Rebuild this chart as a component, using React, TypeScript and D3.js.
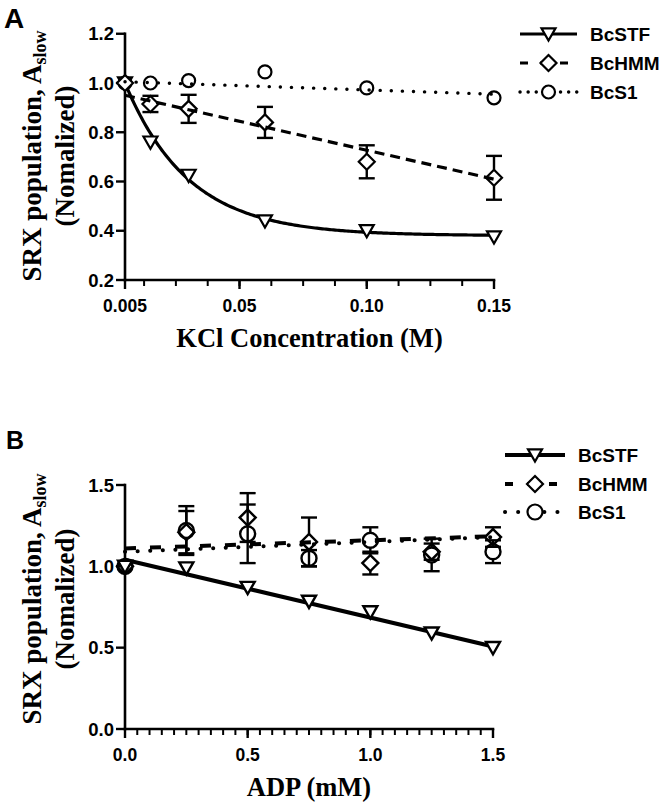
import React from "react";
import * as d3 from "d3";

// ---------- Panel A data (KCl) ----------
const kclX = [0.005, 0.015, 0.03, 0.06, 0.1, 0.15];
const kclSTF = [1.0, 0.76, 0.625, 0.44, 0.4, 0.375];
const kclHMM = [1.0, 0.915, 0.895, 0.84, 0.68, 0.615];
const kclHMMErr = [0, 0.033, 0.057, 0.063, 0.067, 0.089];
const kclS1 = [1.0, 1.0, 1.01, 1.045, 0.98, 0.94];
// fitted curves
const kclSTFFit = { plateau: 0.38, span: 0.62, k: 40, x0: 0.005 };
const kclHMMFit = { a: 0.962, b: -2.35 };
const kclS1Fit = { a: 1.007, b: -0.35 };
const kclXTicks = [0.005, 0.05, 0.1, 0.15];
const kclXTickLabels = ["0.005", "0.05", "0.10", "0.15"];
const kclYTicks = [0.2, 0.4, 0.6, 0.8, 1.0, 1.2];
const kclYTickLabels = ["0.2", "0.4", "0.6", "0.8", "1.0", "1.2"];

// ---------- Panel B data (ADP) ----------
const adpX = [0, 0.25, 0.5, 0.75, 1.0, 1.25, 1.5];
const adpSTF = [1.0, 0.99, 0.87, 0.785, 0.72, 0.59, 0.5];
const adpHMM = [1.0, 1.21, 1.3, 1.15, 1.02, 1.09, 1.18];
const adpHMMErr = [0, 0.13, 0.15, 0.15, 0.07, 0.05, 0.06];
const adpS1 = [1.0, 1.22, 1.2, 1.05, 1.16, 1.07, 1.09];
const adpS1Err = [0, 0.15, 0.18, 0.05, 0.08, 0.1, 0.07];
const adpSTFFit = { a: 1.04, b: -0.355 };
const adpHMMFit = { a: 1.11, b: 0.05 };
const adpS1Fit = { a: 1.09, b: 0.06 };
const adpXTicks = [0, 0.5, 1.0, 1.5];
const adpXTickLabels = ["0.0", "0.5", "1.0", "1.5"];
const adpYTicks = [0, 0.5, 1.0, 1.5];
const adpYTickLabels = ["0.0", "0.5", "1.0", "1.5"];

const seriesNames = ["BcSTF", "BcHMM", "BcS1"];

const SANS = "'Liberation Sans', Arial, Helvetica, sans-serif";
const SERIF = "'Liberation Serif', 'Times New Roman', serif";

type Shape = "tri" | "dia" | "cir";

function Marker({ shape, cx, cy, s, fill, sw }: { shape: Shape; cx: number; cy: number; s: number; fill: string; sw: number }) {
  if (shape === "tri") {
    const w = s, h = s;
    const d = `M${cx - w},${cy - h * 0.8}L${cx + w},${cy - h * 0.8}L${cx},${cy + h * 0.95}Z`;
    return <path d={d} fill={fill} stroke="#000" strokeWidth={sw} strokeLinejoin="miter" />;
  }
  if (shape === "dia") {
    const d = `M${cx},${cy - s}L${cx + s},${cy}L${cx},${cy + s}L${cx - s},${cy}Z`;
    return <path d={d} fill={fill} stroke="#000" strokeWidth={sw} />;
  }
  return <circle cx={cx} cy={cy} r={s} fill={fill} stroke="#000" strokeWidth={sw} />;
}

function ErrBar({ x, y0, yTop, yBot, half, cap, sw }: any) {
  return (
    <g stroke="#000" strokeWidth={sw}>
      <line x1={x} x2={x} y1={yTop} y2={y0 - half} />
      <line x1={x} x2={x} y1={y0 + half} y2={yBot} />
      <line x1={x - cap} x2={x + cap} y1={yTop} y2={yTop} />
      <line x1={x - cap} x2={x + cap} y1={yBot} y2={yBot} />
    </g>
  );
}

function Axes({ x, y, xTicks, xLabels, xMinor, yTicks, yLabels, xTitle, titleCenterY, label, labelY, labelSize }: any) {
  const [x0, x1] = x.range();
  const [yb, yt] = y.range();
  return (
    <g>
      <line x1={x0} x2={x1} y1={yb} y2={yb} stroke="#000" strokeWidth={2.6} strokeLinecap="square" />
      <line x1={x0} x2={x0} y1={yb} y2={yt} stroke="#000" strokeWidth={2.6} strokeLinecap="square" />
      {xMinor.map((v: number, i: number) => (
        <line key={"m" + i} x1={x(v)} x2={x(v)} y1={yb} y2={yb + 6} stroke="#000" strokeWidth={2} />
      ))}
      {xTicks.map((v: number, i: number) => (
        <g key={"x" + i}>
          <line x1={x(v)} x2={x(v)} y1={yb} y2={yb + 9} stroke="#000" strokeWidth={2.4} />
          <text x={x(v)} y={yb + 32} textAnchor="middle" fontFamily={SANS} fontWeight="bold" fontSize={17.5}>
            {xLabels[i]}
          </text>
        </g>
      ))}
      {yTicks.map((v: number, i: number) => (
        <g key={"y" + i}>
          <line x1={x0 - 9} x2={x0} y1={y(v)} y2={y(v)} stroke="#000" strokeWidth={2.4} />
          <text x={x0 - 11} y={y(v) + 6.5} textAnchor="end" fontFamily={SANS} fontWeight="bold" fontSize={18.5}>
            {yLabels[i]}
          </text>
        </g>
      ))}
      <text x={(x0 + x1) / 2} y={yb + 67} textAnchor="middle" fontFamily={SERIF} fontWeight="bold" fontSize={26.5}>
        {xTitle}
      </text>
      <g transform={`translate(41,${titleCenterY}) rotate(-90)`}>
        <text x={0} y={0} textAnchor="middle" fontFamily={SERIF} fontWeight="bold" fontSize={27}>
          SRX population, A
          <tspan fontSize={18} dy={5}>slow</tspan>
        </text>
      </g>
      <g transform={`translate(74,${titleCenterY}) rotate(-90)`}>
        <text x={0} y={0} textAnchor="middle" fontFamily={SERIF} fontWeight="bold" fontSize={27}>
          (Nomalized)
        </text>
      </g>
      <text x={labelY[0]} y={labelY[1]} fontFamily={SANS} fontWeight="bold" fontSize={labelSize}>
        {label}
      </text>
    </g>
  );
}

function Legend({ x0, x1, xText, rows, styles, sizes }: any) {
  const cx = (x0 + x1) / 2;
  return (
    <g>
      {seriesNames.map((n, i) => (
        <g key={n}>
          <line x1={x0} x2={x1} y1={rows[i]} y2={rows[i]} stroke="#000" strokeWidth={styles[i].w}
            strokeDasharray={styles[i].dash} strokeLinecap={styles[i].cap} />
          <Marker shape={(["tri", "dia", "cir"] as Shape[])[i]} cx={cx} cy={rows[i]} s={sizes[i]} fill="#fff" sw={2.2} />
          <text x={xText} y={rows[i] + 7} fontFamily={SANS} fontWeight="bold" fontSize={19}>
            {n}
          </text>
        </g>
      ))}
    </g>
  );
}

export default function App() {
  // ---- Panel A ----
  const xA = d3.scaleLinear().domain([0.005, 0.15]).range([125, 494]);
  const yA = d3.scaleLinear().domain([0.2, 1.2]).range([280, 33.75]);
  const minorA = d3.range(1, 13).map((i) => i * 0.0125);
  const fitXs = d3.range(0, 201).map((i) => 0.005 + (i / 200) * 0.145);
  const lineA = d3.line<[number, number]>().x((d) => xA(d[0])).y((d) => yA(d[1]));
  const stfCurveA = lineA(fitXs.map((v) => [v, kclSTFFit.plateau + kclSTFFit.span * Math.exp(-kclSTFFit.k * (v - kclSTFFit.x0))]));
  const hmmLineA = lineA([0.005, 0.15].map((v) => [v, kclHMMFit.a + kclHMMFit.b * v]));
  const s1LineA = lineA([0.005, 0.15].map((v) => [v, kclS1Fit.a + kclS1Fit.b * v]));

  // ---- Panel B ----
  const xB = d3.scaleLinear().domain([0, 1.5]).range([125, 493]);
  const yB = d3.scaleLinear().domain([0, 1.5]).range([729, 485]);
  const minorB = d3.range(1, 30).map((i) => i * 0.05);
  const lineB = d3.line<[number, number]>().x((d) => xB(d[0])).y((d) => yB(d[1]));
  const stfLineB = lineB([0, 1.5].map((v) => [v, adpSTFFit.a + adpSTFFit.b * v]));
  const hmmLineB = lineB([0, 1.5].map((v) => [v, adpHMMFit.a + adpHMMFit.b * v]));
  const s1LineB = lineB([0, 1.5].map((v) => [v, adpS1Fit.a + adpS1Fit.b * v]));

  return (
    <svg width={664} height={802} style={{ position: "absolute", left: 0, top: 0, background: "#fff" }}>
      {/* ===== Panel A ===== */}
      <Axes x={xA} y={yA} xTicks={kclXTicks} xLabels={kclXTickLabels} xMinor={minorA} yTicks={kclYTicks}
        yLabels={kclYTickLabels} xTitle="KCl Concentration (M)" titleCenterY={156} label="A" labelY={[4, 28]} labelSize={28} />
      <path d={stfCurveA!} fill="none" stroke="#000" strokeWidth={3.2} />
      {kclX.map((v, i) => (
        <ErrBar key={"ea" + i} x={xA(v)} y0={yA(kclHMM[i])} yTop={yA(kclHMM[i] + kclHMMErr[i])} yBot={yA(kclHMM[i] - kclHMMErr[i])}
          half={kclHMMErr[i] > 0 ? 8 : 0} cap={kclHMMErr[i] > 0 ? 8 : 0} sw={2.4} />
      ))}
      {kclX.map((v, i) => (
        <Marker key={"sa" + i} shape="cir" cx={xA(v)} cy={yA(kclS1[i])} s={6.5} fill="none" sw={2.2} />
      ))}
      {kclX.map((v, i) => (
        <Marker key={"ta" + i} shape="tri" cx={xA(v)} cy={yA(kclSTF[i])} s={7} fill="#fff" sw={2.2} />
      ))}
      {kclX.map((v, i) => (
        <Marker key={"ha" + i} shape="dia" cx={xA(v)} cy={yA(kclHMM[i])} s={8} fill="#fff" sw={2.2} />
      ))}
      <path d={hmmLineA!} fill="none" stroke="#000" strokeWidth={3.2} strokeDasharray="10,6" />
      <path d={s1LineA!} fill="none" stroke="#000" strokeWidth={3.4} strokeDasharray="0.1,11" strokeLinecap="round" />
      <Legend x0={520} x1={577} xText={590} rows={[34, 63, 92]}
        styles={[{ w: 3.2, dash: null, cap: "butt" }, { w: 3.2, dash: "8,12", cap: "butt" }, { w: 3.4, dash: "0.1,8", cap: "round" }]}
        sizes={[7, 8, 6.5]} />

      {/* ===== Panel B ===== */}
      <Axes x={xB} y={yB} xTicks={adpXTicks} xLabels={adpXTickLabels} xMinor={minorB} yTicks={adpYTicks}
        yLabels={adpYTickLabels} xTitle="ADP (mM)" titleCenterY={599} label="B" labelY={[6, 449]} labelSize={25} />
      <path d={stfLineB!} fill="none" stroke="#000" strokeWidth={4.2} />
      {adpX.map((v, i) => (
        <ErrBar key={"ebh" + i} x={xB(v)} y0={yB(adpHMM[i])} yTop={yB(adpHMM[i] + adpHMMErr[i])} yBot={yB(adpHMM[i] - adpHMMErr[i])}
          half={adpHMMErr[i] > 0 ? 8 : 0} cap={adpHMMErr[i] > 0 ? 8 : 0} sw={2.4} />
      ))}
      {adpX.map((v, i) => (
        <ErrBar key={"ebs" + i} x={xB(v)} y0={yB(adpS1[i])} yTop={yB(adpS1[i] + adpS1Err[i])} yBot={yB(adpS1[i] - adpS1Err[i])}
          half={adpS1Err[i] > 0 ? 7.5 : 0} cap={adpS1Err[i] > 0 ? 8 : 0} sw={2.4} />
      ))}
      {adpX.map((v, i) => (
        <Marker key={"sb" + i} shape="cir" cx={xB(v)} cy={yB(adpS1[i])} s={7.5} fill="none" sw={2.4} />
      ))}
      {adpX.map((v, i) => (
        <Marker key={"hb" + i} shape="dia" cx={xB(v)} cy={yB(adpHMM[i])} s={8} fill="none" sw={2.4} />
      ))}
      {adpX.map((v, i) => (
        <Marker key={"tb" + i} shape="tri" cx={xB(v)} cy={yB(adpSTF[i])} s={7} fill="#fff" sw={2.4} />
      ))}
      <path d={hmmLineB!} fill="none" stroke="#000" strokeWidth={4} strokeDasharray="11,14" />
      <path d={s1LineB!} fill="none" stroke="#000" strokeWidth={4} strokeDasharray="0.1,12.5" strokeLinecap="round" />
      <Legend x0={505} x1={565} xText={578} rows={[455, 484, 512]}
        styles={[{ w: 4.2, dash: null, cap: "butt" }, { w: 4, dash: "8,14", cap: "butt" }, { w: 4, dash: "0.1,13", cap: "round" }]}
        sizes={[7, 8, 7.5]} />
    </svg>
  );
}
